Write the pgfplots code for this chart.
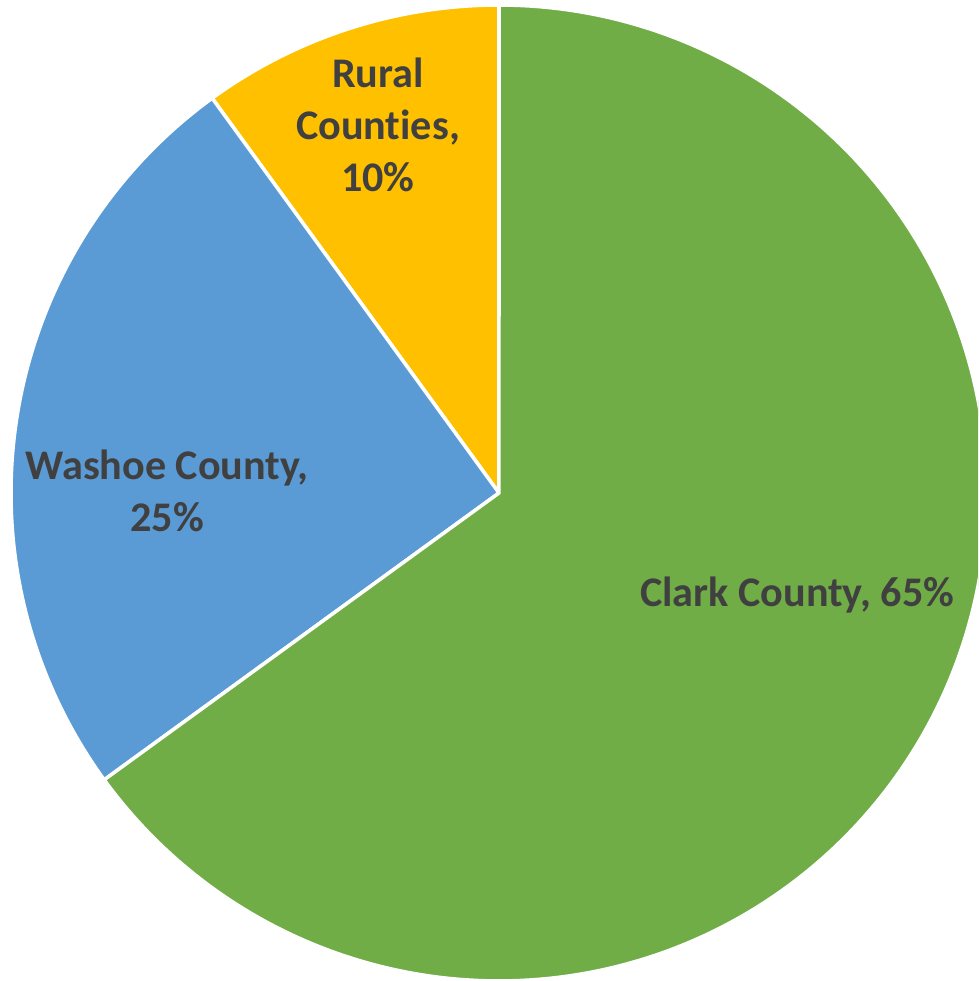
\documentclass[border=0pt]{standalone}
\usepackage{fontspec}
\setmainfont{Carlito}[Ligatures=NoCommon]
\usepackage{pgfplots}
\usepackage{pgfplotstable}
\pgfplotsset{compat=1.18}
\definecolor{clark}{HTML}{70AD47}
\definecolor{washoe}{HTML}{5B9BD5}
\definecolor{rural}{HTML}{FFC000}
\definecolor{lbl}{HTML}{404040}

% share of each slice, in percent
\pgfplotstableread{
label value
Rural 10
Washoe 25
Clark 65
}\piedata

\begin{document}
\begin{tikzpicture}[lab/.style={font=\fontsize{12}{14.8}\selectfont\bfseries, text=lbl, align=center}]
  \pgfplotstablegetelem{0}{value}\of\piedata \let\vR\pgfplotsretval
  \pgfplotstablegetelem{1}{value}\of\piedata \let\vW\pgfplotsretval
  \pgfplotstablegetelem{2}{value}\of\piedata \let\vC\pgfplotsretval
  % slices go counter-clockwise from the top
  \pgfmathsetmacro\aA{90}
  \pgfmathsetmacro\aB{\aA+3.6*\vR}
  \pgfmathsetmacro\aC{\aB+3.6*\vW}
  \pgfmathsetmacro\aD{\aC+3.6*\vC}
  \begin{axis}[
    name=pie, hide axis, scale only axis,
    width=9.78cm, height=9.81cm,
    xmin=-1.0225, xmax=0.9816, ymin=-1.0, ymax=1.0102,
  ]
    \addplot[fill=rural, draw=white, line width=1pt, domain=\aA:\aB, samples=60]
      ({cos(x)},{sin(x)}) -- (axis cs:0,0) -- cycle;
    \addplot[fill=washoe, draw=white, line width=1pt, domain=\aB:\aC, samples=100]
      ({cos(x)},{sin(x)}) -- (axis cs:0,0) -- cycle;
    \addplot[fill=clark, draw=white, line width=1pt, domain=\aC:\aD, samples=200]
      ({cos(x)},{sin(x)}) -- (axis cs:0,0) -- cycle;

    \node[lab] at (axis cs:-0.248,0.754) {Rural\\Counties,\\10\%};
    \node[lab] at (axis cs:-0.680,0.004) {Washoe County,\\25\%};
    \node[lab] at (axis cs:0.611,-0.209) {Clark County, 65\%};
  \end{axis}
  \pgfresetboundingbox
  \useasboundingbox (pie.south west) rectangle (pie.north east);
\end{tikzpicture}
\end{document}
